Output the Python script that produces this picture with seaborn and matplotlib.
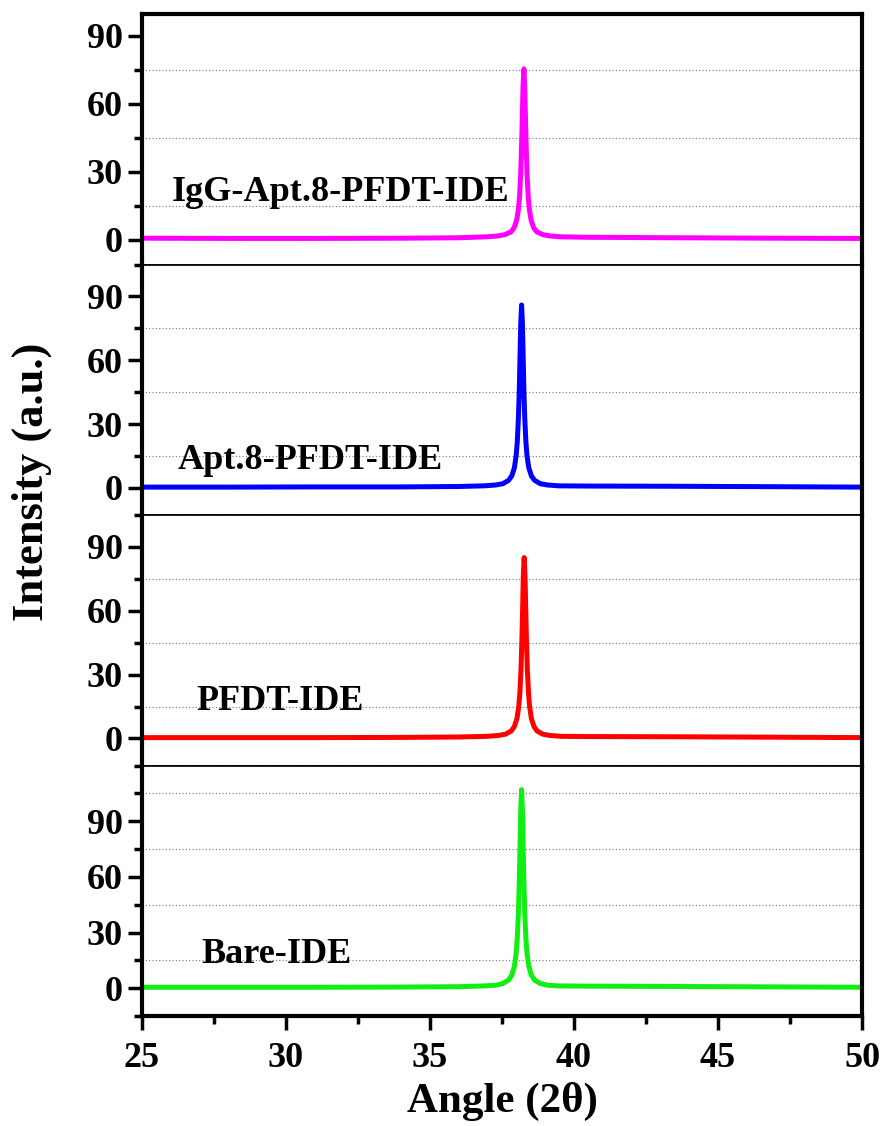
import numpy as np
import pandas as pd
import matplotlib.pyplot as plt
import seaborn as sns
from matplotlib.ticker import MultipleLocator

# XRD patterns (angle in 2-theta, intensity in a.u.)
igg_x = [25.0, 28.0, 31.0, 34.0, 36.0,
         36.96, 37.36, 37.61, 37.81, 37.92, 38.01, 38.07, 38.11, 38.15, 38.18, 38.21, 38.23,
         38.26,
         38.29, 38.31, 38.34, 38.37, 38.41, 38.45, 38.51, 38.60, 38.71, 38.91, 39.16, 39.56,
         40.5, 43.5, 47.0, 50.0]
igg_y = [0.6, 0.5, 0.5, 0.6, 0.8,
         1.2, 1.6, 2.2, 3.4, 5.2, 8.6, 13.3, 19, 29, 41, 56.5, 67.5,
         75.3,
         67.5, 56.5, 41, 29, 19, 13.3, 8.6, 5.2, 3.4, 2.2, 1.6, 1.2,
         1.0, 0.8, 0.6, 0.5]

apt_x = [25.0, 28.0, 31.0, 34.0, 36.0,
         36.88, 37.28, 37.53, 37.73, 37.84, 37.93, 37.99, 38.03, 38.07, 38.10, 38.13, 38.15,
         38.18,
         38.21, 38.23, 38.26, 38.29, 38.33, 38.37, 38.43, 38.52, 38.63, 38.83, 39.08, 39.48,
         40.5, 43.5, 47.0, 50.0]
apt_y = [0.4, 0.4, 0.5, 0.5, 0.7,
         1.0, 1.4, 2.0, 3.6, 5.7, 9.5, 15, 21.5, 33, 46, 64.5, 77,
         86,
         77, 64.5, 46, 33, 21.5, 15, 9.5, 5.7, 3.6, 2.0, 1.4, 1.0,
         0.9, 0.8, 0.6, 0.4]

pfdt_x = [25.0, 28.0, 31.0, 34.0, 36.0,
          36.97, 37.37, 37.62, 37.82, 37.93, 38.02, 38.08, 38.12, 38.16, 38.19, 38.22, 38.24,
          38.27,
          38.30, 38.32, 38.35, 38.38, 38.42, 38.46, 38.52, 38.61, 38.72, 38.92, 39.17, 39.57,
          40.5, 43.5, 47.0, 50.0]
pfdt_y = [0.4, 0.4, 0.4, 0.5, 0.7,
          1.0, 1.4, 2.0, 3.5, 5.6, 9.4, 14.8, 21.3, 32.5, 45.5, 63.5, 76,
          85,
          76, 63.5, 45.5, 32.5, 21.3, 14.8, 9.4, 5.6, 3.5, 2.0, 1.4, 1.0,
          0.9, 0.8, 0.6, 0.4]

bare_x = [25.0, 28.0, 31.0, 34.0, 36.0,
          36.88, 37.28, 37.53, 37.73, 37.84, 37.93, 37.99, 38.03, 38.07, 38.10, 38.13, 38.15,
          38.18,
          38.21, 38.23, 38.26, 38.29, 38.33, 38.37, 38.43, 38.52, 38.63, 38.83, 39.08, 39.48,
          40.5, 43.5, 47.0, 50.0]
bare_y = [0.5, 0.5, 0.5, 0.6, 0.8,
          1.2, 1.6, 2.5, 4.4, 7.0, 11.8, 18.6, 26.7, 40.5, 57.5, 80, 95.5,
          107,
          95.5, 80, 57.5, 40.5, 26.7, 18.6, 11.8, 7.0, 4.4, 2.5, 1.6, 1.2,
          1.1, 0.9, 0.7, 0.5]

names = ["IgG-Apt.8-PFDT-IDE", "Apt.8-PFDT-IDE", "PFDT-IDE", "Bare-IDE"]
colors = ["#ff00ff", "#0000ff", "#ff0000", "#11ee11"]
ylims = [(-11, 99.5), (-12.7, 105), (-12.7, 105), (-15, 120)]
label_pos = [(26.04, 20.6), (26.25, 12.7), (26.9, 17.3), (27.08, 17.9)]
xs = [igg_x, apt_x, pfdt_x, bare_x]
ys = [igg_y, apt_y, pfdt_y, bare_y]

sns.set_style("ticks")
plt.rcParams['font.family'] = ['Liberation Serif', 'DejaVu Serif']
plt.rcParams['font.weight'] = 'bold'
for key in ['text.color', 'axes.labelcolor', 'xtick.color', 'ytick.color', 'axes.edgecolor']:
    plt.rcParams[key] = 'black'

fig, axes = plt.subplots(4, 1, figsize=(8.84, 11.26), dpi=100, sharex=True)
fig.subplots_adjust(left=142/884, right=862/884, top=1-14/1126, bottom=1-1016/1126, hspace=0)

for i, ax in enumerate(axes):
    df = pd.DataFrame({"angle": xs[i], "intensity": ys[i]})
    sns.lineplot(data=df, x="angle", y="intensity", ax=ax, color=colors[i], lw=3.6,
                 solid_joinstyle='round', solid_capstyle='round')
    ax.set_xlim(25, 50)
    ax.set_ylim(*ylims[i])
    ax.yaxis.set_major_locator(MultipleLocator(30))
    ax.yaxis.set_minor_locator(MultipleLocator(15))
    ax.set_yticks([0, 30, 60, 90])
    ax.grid(which='minor', axis='y', color='#777777', ls=(0, (1, 2)), lw=0.8)
    ax.grid(which='major', visible=False)
    ax.set_xlabel("")
    ax.set_ylabel("")
    ax.tick_params(axis='y', which='major', direction='out', length=10, width=2.5,
                   labelsize=26, pad=4)
    ax.tick_params(axis='y', which='minor', direction='out', length=6, width=2.5)
    ax.tick_params(axis='x', which='both', bottom=(i == 3), labelbottom=(i == 3))
    for lab in ax.get_yticklabels():
        lab.set_fontweight('bold')
    ax.spines['left'].set_linewidth(3)
    ax.spines['right'].set_linewidth(3)
    ax.spines['top'].set_linewidth(3 if i == 0 else 1.2)
    ax.spines['bottom'].set_linewidth(3 if i == 3 else 1.2)
    ax.text(label_pos[i][0], label_pos[i][1], names[i], fontsize=26, fontweight='bold',
            va='center', ha='left')

ax = axes[-1]
ax.xaxis.set_major_locator(MultipleLocator(5))
ax.xaxis.set_minor_locator(MultipleLocator(2.5))
ax.tick_params(axis='x', which='major', direction='out', length=10, width=2.5,
               labelsize=26, pad=9)
ax.tick_params(axis='x', which='minor', direction='out', length=6, width=2.5)
for lab in ax.get_xticklabels():
    lab.set_fontweight('bold')
ax.set_xlabel("Angle (2θ)", fontsize=31, fontweight='bold', labelpad=5)

fig.text(0.036, 0.572, "Intensity (a.u.)", rotation=90, fontsize=32, fontweight='bold',
         va='center', ha='center')

plt.savefig("out.png", dpi=100)
